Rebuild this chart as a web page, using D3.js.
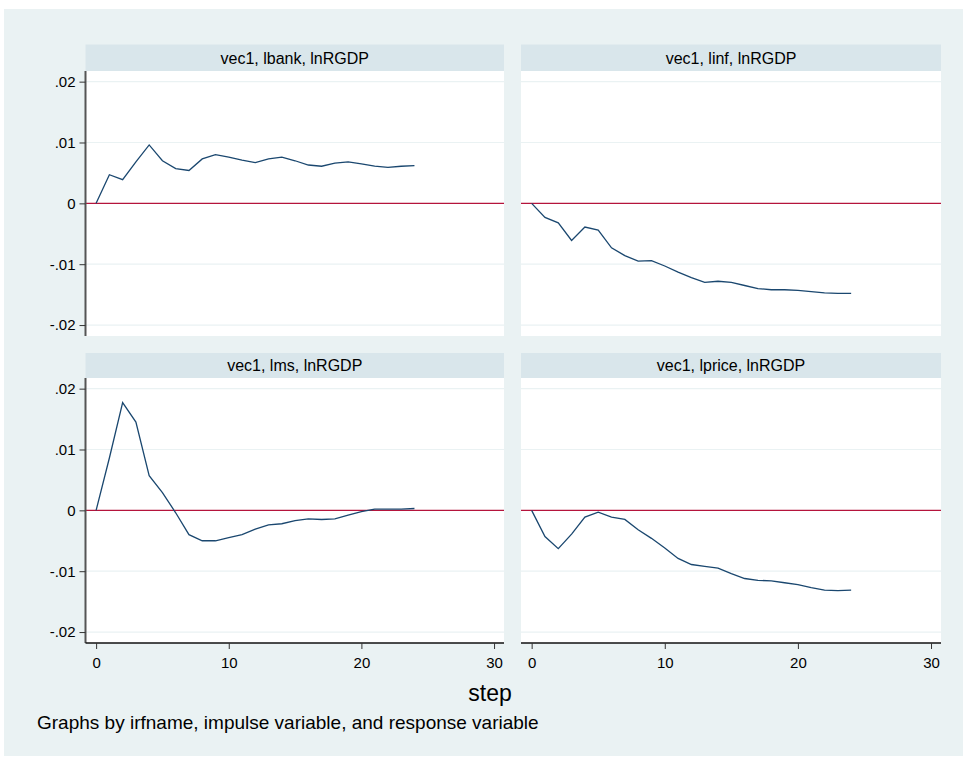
<!DOCTYPE html>
<html>
<head>
<meta charset="utf-8">
<script src="https://d3js.org/d3.v7.min.js"></script>
<style>
  body { margin: 0; background: #ffffff; }
  text { font-family: "Liberation Sans", Arial, sans-serif; fill: #000; }
</style>
</head>
<body>
<div id="chart"></div>
<script>
// steps 0..24
var steps = d3.range(0, 25);

// responses of lnRGDP
var lbank = [0, 0.0047, 0.0039, 0.0068, 0.0096, 0.0070, 0.0057, 0.0054, 0.0073, 0.0080,
  0.0076, 0.0071, 0.0067, 0.0073, 0.0076, 0.0070, 0.0063, 0.0061, 0.0066, 0.0068,
  0.0065, 0.0061, 0.0059, 0.0061, 0.0062];
var linf = [0, -0.0023, -0.0032, -0.0061, -0.0039, -0.0044, -0.0073, -0.0086, -0.0095, -0.0094,
  -0.0103, -0.0113, -0.0122, -0.0130, -0.0128, -0.0130, -0.0135, -0.0140, -0.0142, -0.0142,
  -0.0143, -0.0145, -0.0147, -0.0148, -0.0148];
var lms = [0, 0.0086, 0.0177, 0.0145, 0.0057, 0.0029, -0.0004, -0.0040, -0.0050, -0.0050,
  -0.0045, -0.0040, -0.0031, -0.0024, -0.0022, -0.0017, -0.0014, -0.0015, -0.0014, -0.0008,
  -0.0002, 0.0002, 0.0002, 0.0002, 0.0003];
var lprice = [0, -0.0043, -0.0063, -0.0039, -0.0011, -0.0003, -0.0011, -0.0015, -0.0032, -0.0046,
  -0.0062, -0.0079, -0.0089, -0.0092, -0.0095, -0.0104, -0.0112, -0.0115, -0.0116, -0.0119,
  -0.0122, -0.0127, -0.0131, -0.0132, -0.0131];

var panelTitles = ["vec1, lbank, lnRGDP", "vec1, linf, lnRGDP", "vec1, lms, lnRGDP", "vec1, lprice, lnRGDP"];
var panelSeries = [lbank, linf, lms, lprice];

var xTicks = [0, 10, 20, 30];
var yTicks = [0.02, 0.01, 0, -0.01, -0.02];
var yTickLabels = [".02", ".01", "0", "-.01", "-.02"];

var W = 963, H = 761;
var bg = "#eaf2f3", stripFill = "#d9e6eb", lineColor = "#1a476f", zeroColor = "#b5143c";

var svg = d3.select("#chart").append("svg")
    .attr("width", W)
    .attr("height", H);

// outer graph region
svg.append("rect")
    .attr("x", 4).attr("y", 9)
    .attr("width", W - 4).attr("height", 747)
    .attr("fill", bg);

// panel boxes: plot area without the header strip
var cols = [{left: 85.5, right: 504}, {left: 521, right: 941}];
var rows = [{top: 44.5, plotTop: 71, bottom: 336}, {top: 353, plotTop: 378, bottom: 643}];

panelSeries.forEach(function(series, i) {
  var c = cols[i % 2], r = rows[Math.floor(i / 2)];
  var isLeft = (i % 2 === 0), isBottom = (i >= 2);

  var x = d3.scaleLinear().domain([-0.8, 30.75]).range([c.left, c.right]);
  var y = d3.scaleLinear().domain([-0.0218, 0.02175]).range([r.bottom, r.plotTop]);

  var g = svg.append("g");

  // header strip
  g.append("rect")
      .attr("x", c.left).attr("y", r.top)
      .attr("width", c.right - c.left).attr("height", r.plotTop - r.top)
      .attr("fill", stripFill);
  g.append("text")
      .attr("x", (c.left + c.right) / 2)
      .attr("y", (r.top + r.plotTop) / 2)
      .attr("dy", "0.36em")
      .attr("text-anchor", "middle")
      .style("font-size", "16px")
      .text(panelTitles[i]);

  // plot area
  g.append("rect")
      .attr("x", c.left).attr("y", r.plotTop)
      .attr("width", c.right - c.left).attr("height", r.bottom - r.plotTop)
      .attr("fill", "#ffffff");

  // grid lines
  g.selectAll(".grid")
      .data(yTicks.filter(function(t) { return t !== 0; }))
      .enter().append("line")
      .attr("x1", c.left).attr("x2", c.right)
      .attr("y1", function(d) { return y(d); })
      .attr("y2", function(d) { return y(d); })
      .attr("stroke", bg)
      .attr("stroke-width", 1.2);

  // zero line
  g.append("line")
      .attr("x1", c.left).attr("x2", c.right)
      .attr("y1", y(0)).attr("y2", y(0))
      .attr("stroke", zeroColor)
      .attr("stroke-width", 1.3);

  // response line
  var line = d3.line()
      .x(function(d, k) { return x(steps[k]); })
      .y(function(d) { return y(d); });
  g.append("path")
      .datum(series)
      .attr("d", line)
      .attr("fill", "none")
      .attr("stroke", lineColor)
      .attr("stroke-width", 1.3);

  // y axis on left column
  if (isLeft) {
    var ya = g.append("g")
        .attr("transform", "translate(" + c.left + ",0)")
        .call(d3.axisLeft(y).tickValues(yTicks).tickSize(6).tickPadding(4)
          .tickFormat(function(d, k) { return yTickLabels[k]; }));
    ya.select(".domain").attr("stroke", "#555").attr("stroke-width", 2)
        .attr("d", "M0," + r.plotTop + "V" + r.bottom);
    ya.selectAll(".tick line").attr("stroke", "#333");
    ya.selectAll("text").style("font-size", "15px").attr("fill", "#000");
  }

  // x axis on bottom row
  if (isBottom) {
    var xa = g.append("g")
        .attr("transform", "translate(0," + r.bottom + ")")
        .call(d3.axisBottom(x).tickValues(xTicks).tickSize(6).tickPadding(8));
    xa.select(".domain").attr("stroke", "#111").attr("stroke-width", 1.5)
        .attr("d", "M" + c.left + ",0H" + c.right);
    xa.selectAll(".tick line").attr("stroke", "#333");
    xa.selectAll("text").style("font-size", "15px").attr("fill", "#000");
  }
});

// axis title
svg.append("text")
    .attr("x", 490).attr("y", 701)
    .attr("text-anchor", "middle")
    .style("font-size", "23px")
    .text("step");

// note
svg.append("text")
    .attr("x", 37).attr("y", 729)
    .style("font-size", "19px")
    .text("Graphs by irfname, impulse variable, and response variable");
</script>
</body>
</html>
